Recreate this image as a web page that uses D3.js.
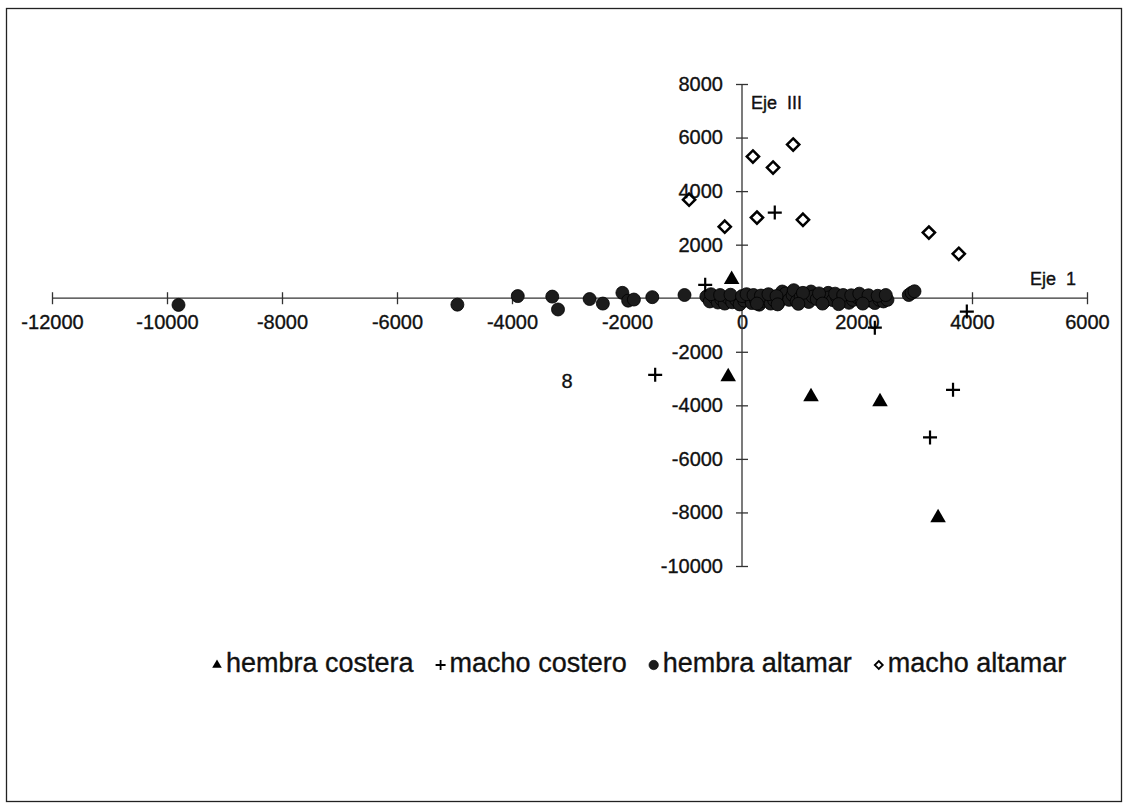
<!DOCTYPE html>
<html>
<head>
<meta charset="utf-8">
<script src="https://cdn.jsdelivr.net/npm/d3@7"></script>
<style>
  html, body { margin: 0; padding: 0; background: #fff; }
  svg { display: block; }
  text { font-family: "Liberation Sans", Arial, sans-serif; fill: #111; stroke: #111; stroke-width: 0.35px; }
</style>
</head>
<body>
<svg id="chart" width="1129" height="804"></svg>
<script>
// ---- data ----
const xTicks = [-12000, -10000, -8000, -6000, -4000, -2000, 0, 2000, 4000, 6000];
const yTicks = [-10000, -8000, -6000, -4000, -2000, 2000, 4000, 6000, 8000];
const seriesNames = ["hembra costera", "macho costero", "hembra altamar", "macho altamar"];

const hembraCostera = [
  [-180, 700], [-240, -2930], [1200, -3680], [2400, -3870], [3410, -8200]
];
const machoCostero = [
  [-640, 500], [-1510, -2860], [570, 3200], [3670, -3420], [3270, -5200],
  [2310, -1100], [3910, -500]
];
const hembraAltamar = [
  [-9800, -250], [-4950, -240], [-3900, 80], [-3300, 60], [-3200, -420],
  [-2650, -30], [-2420, -200], [-2080, 200], [-1980, -90], [-1880, -50],
  [-1560, 40], [-1000, 120],
  [-620, 60], [-560, -120], [-480, 30], [-420, -160], [-360, -40], [-300, -200],
  [-240, 20], [-170, -150], [-100, -60], [-40, -230], [40, -90], [110, 40],
  [170, -180], [240, -60], [300, -240], [360, -100], [430, -20], [500, -200],
  [560, -80], [640, -150], [700, 60], [700, 250], [760, 180], [820, -60],
  [880, 120], [900, 300], [950, -120], [1020, 40], [1090, -40], [1160, -140],
  [1200, 250], [1230, 60], [1300, -30], [1380, 100], [1440, -110], [1500, 200],
  [1510, 30], [1580, -70], [1650, 50], [1720, -130], [1790, -30], [1860, -170],
  [1930, -60], [2000, 40], [2080, -110], [2150, -20], [2230, -90], [2310, -180],
  [2390, -60], [2460, -120], [2530, -60], [2900, 120], [2950, 200], [3000, 260],
  [-540, 150], [-380, 120], [-200, 130], [0, 80], [80, 150], [200, 120],
  [330, 100], [460, 150], [600, 80], [1060, 200], [1340, 180], [1620, 170],
  [1760, 120], [1900, 110], [2040, 170], [2200, 110], [2360, 90], [2500, 120],
  [260, -200], [620, -230], [980, -210], [1400, -200], [1680, -220], [2100, -200]
];
const machoAltamar = [
  [190, 5290], [540, 4880], [890, 5740], [-920, 3680], [-300, 2670],
  [260, 3010], [1060, 2930], [3250, 2450], [3770, 1660]
];
const axisTitles = ["Eje  1", "Eje  III"];
const strayLabel = "8";

// ---- layout ----
const svg = d3.select("#chart");
const x = d3.scaleLinear().domain([-12000, 6000]).range([52, 1087]);
const y = d3.scaleLinear().domain([-10000, 8000]).range([566, 84]);

// frame
svg.append("rect").attr("x", 6.5).attr("y", 8.5).attr("width", 1115).attr("height", 793)
  .attr("fill", "none").attr("stroke", "#222").attr("stroke-width", 1.3);

const fmt = d => String(d);

// x axis (through y=0)
const gx = svg.append("g").attr("transform", `translate(0,${y(0)})`)
  .call(d3.axisBottom(x).tickValues(xTicks).tickFormat(fmt).tickSize(5).tickPadding(12));
gx.select(".domain").attr("d", `M${x(-12000)},0H${x(6000)}`).attr("stroke", "#333").attr("stroke-width", 1.3);
gx.selectAll(".tick line").attr("y1", -6).attr("y2", 6).attr("stroke", "#333").attr("stroke-width", 1.3);
gx.selectAll(".tick text").style("font-size", "20px").style("font-family", "Liberation Sans, Arial, sans-serif").attr("fill", "#111");

// y axis (through x=0)
const gy = svg.append("g").attr("transform", `translate(${x(0)},0)`)
  .call(d3.axisLeft(y).tickValues(yTicks).tickFormat(fmt).tickSize(5).tickPadding(14));
gy.select(".domain").attr("d", `M0,${y(8000)}V${y(-10000)}`).attr("stroke", "#333").attr("stroke-width", 1.3);
gy.selectAll(".tick line").attr("x1", -6).attr("x2", 6).attr("stroke", "#333").attr("stroke-width", 1.3);
gy.selectAll(".tick text").style("font-size", "20px").style("font-family", "Liberation Sans, Arial, sans-serif").attr("fill", "#111");

// axis titles
svg.append("text").attr("x", 1030).attr("y", y(0) - 13).style("font-size", "18px").attr("xml:space", "preserve").text(axisTitles[0]);
svg.append("text").attr("x", 751).attr("y", y(8000) + 25).style("font-size", "18px").attr("xml:space", "preserve").text(axisTitles[1]);
svg.append("text").attr("x", 567).attr("y", 388).attr("text-anchor", "middle").style("font-size", "20px").text(strayLabel);

// symbols
const plusType = { draw(ctx, size) { const r = Math.sqrt(size) / 2; ctx.moveTo(-r, 0); ctx.lineTo(r, 0); ctx.moveTo(0, -r); ctx.lineTo(0, r); } };
const diamondType = { draw(ctx, size) { const r = Math.sqrt(size) / 2; ctx.moveTo(0, -r); ctx.lineTo(r, 0); ctx.lineTo(0, r); ctx.lineTo(-r, 0); ctx.closePath(); } };

const layer = svg.append("g");
// hembra altamar (filled circles)
layer.selectAll("circle.ha").data(hembraAltamar).join("circle").attr("class", "ha")
  .attr("cx", d => x(d[0])).attr("cy", d => y(d[1])).attr("r", 6.5)
  .attr("fill", "#1c1c1c").attr("stroke", "#000").attr("stroke-width", 0.8);
// macho altamar (open diamonds)
layer.selectAll("path.ma").data(machoAltamar).join("path").attr("class", "ma")
  .attr("transform", d => `translate(${x(d[0])},${y(d[1])})`)
  .attr("d", d3.symbol().type(diamondType).size(150))
  .attr("fill", "none").attr("stroke", "#000").attr("stroke-width", 2.5);
// hembra costera (filled triangles)
layer.selectAll("path.hc").data(hembraCostera).join("path").attr("class", "hc")
  .attr("transform", d => `translate(${x(d[0])},${y(d[1])})`)
  .attr("d", d3.symbol().type(d3.symbolTriangle).size(105))
  .attr("fill", "#000");
// macho costero (plus)
layer.selectAll("path.mc").data(machoCostero).join("path").attr("class", "mc")
  .attr("transform", d => `translate(${x(d[0])},${y(d[1])})`)
  .attr("d", d3.symbol().type(plusType).size(196))
  .attr("fill", "none").attr("stroke", "#000").attr("stroke-width", 2.2);

// legend
const legY = 663;
const lg = svg.append("g");
let cx = 212;
const legendSyms = [
  { t: d3.symbolTriangle, s: 40, fill: "#000", stroke: "none", sw: 0 },
  { t: plusType, s: 100, fill: "none", stroke: "#000", sw: 1.8 },
  { t: d3.symbolCircle, s: 70, fill: "#1c1c1c", stroke: "#000", sw: 0.6 },
  { t: diamondType, s: 64, fill: "none", stroke: "#000", sw: 1.8 }
];
seriesNames.forEach((name, i) => {
  const sy = legendSyms[i];
  lg.append("path").attr("transform", `translate(${cx + 5},${legY + 2})`)
    .attr("d", d3.symbol().type(sy.t).size(sy.s))
    .attr("fill", sy.fill).attr("stroke", sy.stroke).attr("stroke-width", sy.sw);
  const t = lg.append("text").attr("x", cx + 14).attr("y", legY + 9).style("font-size", "27px").text(name);
  cx += 14 + t.node().getComputedTextLength() + 22;
});
</script>
</body>
</html>
